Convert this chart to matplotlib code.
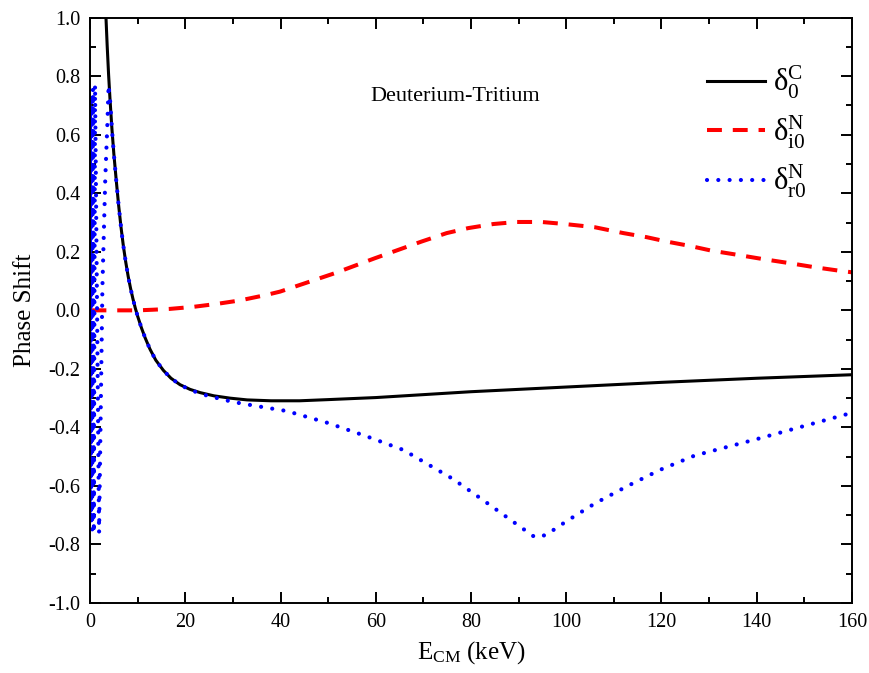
import matplotlib
matplotlib.use("Agg")
import matplotlib.pyplot as plt
from matplotlib.ticker import MultipleLocator, FormatStrFormatter

plt.rcParams["font.family"] = ["Liberation Serif", "DejaVu Serif"]
plt.rcParams["mathtext.fontset"] = "custom"
plt.rcParams["mathtext.rm"] = "Liberation Serif"
plt.rcParams["mathtext.it"] = "Liberation Serif:italic"
plt.rcParams["axes.unicode_minus"] = False

# delta_0^C  (Coulomb phase shift)
e_c = [3.35, 3.6, 3.9, 4.2, 4.6, 5.0, 5.5, 6.0, 6.5, 7.0, 7.5, 8.0, 8.5, 9.0,
       9.5, 10.0, 10.8, 11.6, 12.6, 13.8, 15.4, 17.0, 18.9, 21.0, 23.1, 26,
       29.4, 33, 38, 44, 50, 60, 70, 80, 90, 100, 110, 120, 130, 140, 150, 160]
d_c = [1.0, 0.905, 0.805, 0.72, 0.62, 0.535, 0.445, 0.36, 0.285, 0.22, 0.165,
       0.117, 0.076, 0.04, 0.008, -0.02, -0.06, -0.095, -0.133, -0.17, -0.205,
       -0.232, -0.254, -0.27, -0.281, -0.292, -0.3, -0.306, -0.309, -0.309,
       -0.305, -0.298, -0.288, -0.278, -0.27, -0.262, -0.254, -0.246, -0.239,
       -0.232, -0.226, -0.22]

# delta_i0^N
e_i = [0.3, 5, 10, 13, 16.8, 21.7, 26.6, 31.5, 37.1, 39.9, 43.0, 51.4, 59.8,
       69.6, 74.9, 79.4, 84.7, 89.6, 94.8, 99.7, 106, 112, 116.9, 121.1, 126,
       130.5, 135.1, 141, 147, 151.9, 157.1, 160]
d_i = [0.0, 0.0, 0.0, 0.002, 0.005, 0.012, 0.022, 0.034, 0.053, 0.064, 0.081,
       0.127, 0.178, 0.235, 0.264, 0.281, 0.295, 0.302, 0.302, 0.295, 0.284,
       0.264, 0.25, 0.235, 0.22, 0.204, 0.192, 0.176, 0.161, 0.148, 0.136, 0.13]

# delta_r0^N
e_r = [0.0, 0.05, 0.11, 0.18, 0.26, 0.35, 0.46, 0.6, 0.8, 1.05, 1.9, 2.6, 3.2,
       3.65, 3.9, 4.2, 4.6, 5.0, 5.5, 6.0, 6.5, 7.0, 7.5, 8.0, 8.5, 9.0, 9.5,
       10.0, 10.8, 11.6, 12.6, 13.8, 15.4, 17.0, 18.9, 21.0, 24.5, 30.0, 35.7,
       41.3, 50, 58, 65.8, 76.2, 82.5, 89.0, 93.4, 95.7, 100.1, 106, 112.9,
       119.7, 127, 140, 150, 160]
d_r = [0.0, 0.70, -0.71, 0.72, -0.73, 0.74, -0.75, 0.76, -0.76, 0.77, -0.76,
       0.08, 0.45, 0.64, 0.77, 0.72, 0.62, 0.535, 0.445, 0.36, 0.285, 0.22,
       0.165, 0.117, 0.076, 0.04, 0.008, -0.02, -0.06, -0.095, -0.133, -0.17,
       -0.205, -0.232, -0.254, -0.272, -0.291, -0.313, -0.329, -0.344, -0.385,
       -0.43, -0.477, -0.576, -0.648, -0.724, -0.775, -0.768, -0.72, -0.66,
       -0.60, -0.545, -0.496, -0.44, -0.395, -0.35]

fig = plt.figure(figsize=(8.69, 6.73), dpi=100)
ax = fig.add_axes([0.1036, 0.104, 0.8768, 0.8697])

ax.plot(e_c, d_c, color="black", lw=2.2,
        label=r"$\mathrm{\delta}_{\mathrm{0}}^{\mathrm{C}}$")
ax.plot(e_i, d_i, color="red", lw=2.9, linestyle=(0, (3.7, 2.7)),
        label=r"$\mathrm{\delta}_{\mathrm{i0}}^{\mathrm{N}}$")
ax.plot(e_r, d_r, color="blue", lw=3, linestyle=(0, (0.01, 2.7)),
        dash_capstyle="round",
        label=r"$\mathrm{\delta}_{\mathrm{r0}}^{\mathrm{N}}$")

ax.set_xlim(0, 160)
ax.set_ylim(-1.0, 1.0)
ax.xaxis.set_major_locator(MultipleLocator(20))
ax.xaxis.set_minor_locator(MultipleLocator(10))
ax.yaxis.set_major_locator(MultipleLocator(0.2))
ax.yaxis.set_minor_locator(MultipleLocator(0.1))
ax.yaxis.set_major_formatter(FormatStrFormatter("%.1f"))
ax.tick_params(which="both", direction="in", top=True, right=True,
               width=1.4, labelsize=14.5, pad=7)
ax.tick_params(which="major", length=8)
ax.tick_params(which="minor", length=4.5)
for s in ax.spines.values():
    s.set_linewidth(1.4)

ax.set_xlabel(r"E$_{\mathrm{CM}}$ (keV)", fontsize=18, labelpad=5)
ax.set_ylabel("Phase Shift", fontsize=18, labelpad=9)

ax.text(76.6, 0.73, "Deuterium-Tritium", fontsize=16, ha="center", va="center")

ax.legend(loc="upper right", bbox_to_anchor=(0.976, 0.968), frameon=False,
          fontsize=22, handlelength=1.9, handletextpad=0.25, labelspacing=0.4)

fig.savefig("out.png", dpi=100)
